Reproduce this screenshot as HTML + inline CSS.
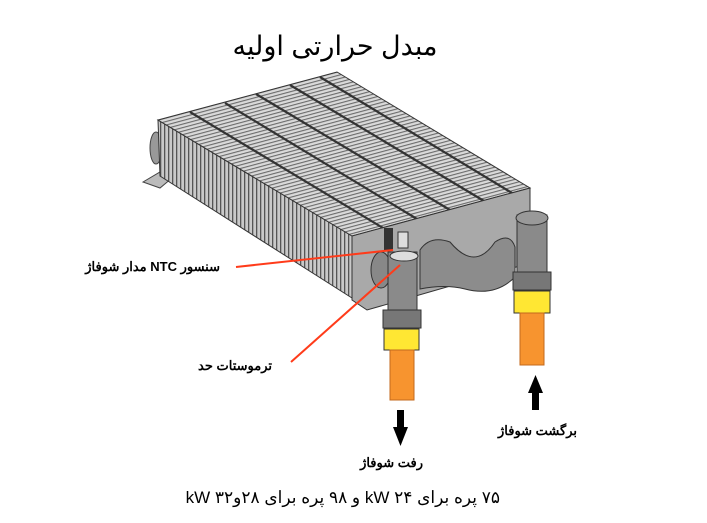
<!DOCTYPE html>
<html><head><meta charset="utf-8"><style>
body{margin:0;background:#fff;width:707px;height:523px;overflow:hidden}
svg{display:block}
</style></head><body>
<svg width="707" height="523" viewBox="0 0 707 523" xmlns="http://www.w3.org/2000/svg">
<defs>
<pattern id="fins" width="4" height="4" patternUnits="userSpaceOnUse">
<rect width="4" height="4" fill="#c9c9c9"/><rect width="1.3" height="4" fill="#555"/>
</pattern>
<pattern id="topfins" width="3.4" height="3.4" patternUnits="userSpaceOnUse" patternTransform="rotate(75)">
<rect width="3.4" height="3.4" fill="#dadada"/><rect width="1.1" height="3.4" fill="#6a6a6a"/>
</pattern>
</defs>
<text x="335" y="55" font-family="Liberation Sans, 'Noto Sans CJK SC', sans-serif" font-size="27" text-anchor="middle" direction="rtl">مبدل حرارتی اولیه</text>
<polygon points="143,182 160,172 172,178 160,188" fill="#bbb" stroke="#444"/>
<ellipse cx="156" cy="148" rx="6" ry="16" fill="#999" stroke="#444"/>
<polygon points="158,120 352,236 352,298 160,176" fill="url(#fins)" stroke="#333"/>
<polygon points="158,120 337,72 530,188 352,236" fill="url(#topfins)" stroke="#333"/>
<g stroke="#333" stroke-width="2.2">
<line x1="190" y1="112" x2="383" y2="228"/>
<line x1="225" y1="103" x2="417" y2="219"/>
<line x1="256" y1="94" x2="450" y2="210"/>
<line x1="290" y1="85" x2="484" y2="201"/>
<line x1="320" y1="77" x2="512" y2="193"/>
</g>
<polygon points="352,236 530,188 530,263 367,310 352,300" fill="#a9a9a9" stroke="#333"/>
<path d="M420,250 q10,-15 30,-8 q25,30 45,0 q15,-10 20,5 l0,30 q-20,20 -50,12 q-20,-5 -45,0z" fill="#8c8c8c" stroke="#333"/>
<ellipse cx="381" cy="270" rx="10" ry="18" fill="#888" stroke="#333"/>
<rect x="384" y="228" width="9" height="22" fill="#333"/>
<rect x="398" y="232" width="10" height="16" fill="#ddd" stroke="#333"/>
<rect x="388" y="252" width="29" height="60" fill="#8a8a8a" stroke="#333"/>
<ellipse cx="404" cy="256" rx="14" ry="5" fill="#ddd" stroke="#333"/>
<rect x="383" y="310" width="38" height="18" fill="#777" stroke="#333"/>
<rect x="384" y="329" width="35" height="21" fill="#ffe733" stroke="#333"/>
<rect x="390" y="350" width="24" height="50" fill="#f7942f" stroke="#c36a1d"/>
<rect x="517" y="215" width="30" height="60" fill="#8a8a8a" stroke="#333"/>
<ellipse cx="532" cy="218" rx="16" ry="7" fill="#999" stroke="#333"/>
<rect x="513" y="272" width="38" height="18" fill="#777" stroke="#333"/>
<rect x="514" y="291" width="36" height="22" fill="#ffe733" stroke="#333"/>
<rect x="520" y="313" width="24" height="52" fill="#f7942f" stroke="#c36a1d"/>
<line x1="236" y1="267" x2="393" y2="250" stroke="#ff3b1a" stroke-width="2"/>
<line x1="291" y1="362" x2="400" y2="265" stroke="#ff3b1a" stroke-width="2"/>
<rect x="397" y="410" width="7" height="18" fill="#000"/><polygon points="393,427 408,427 400.5,446" fill="#000"/>
<polygon points="528,393 543,393 535.5,375" fill="#000"/><rect x="532" y="392" width="7" height="18" fill="#000"/>
<g font-family="Liberation Sans, 'Noto Sans CJK SC', sans-serif" font-weight="bold" font-size="13" direction="rtl">
<text x="220" y="271" text-anchor="start">سنسور NTC مدار شوفاژ</text>
<text x="272" y="370" text-anchor="start">ترموستات حد</text>
<text x="577" y="435" text-anchor="start">برگشت شوفاژ</text>
<text x="423" y="467" text-anchor="start">رفت شوفاژ</text>
</g>
<text x="500" y="503" font-family="Liberation Sans, 'Noto Sans CJK SC', sans-serif" font-size="17" direction="rtl" text-anchor="start">۷۵ پره برای ۲۴ kW و ۹۸ پره برای ۲۸و۳۲ kW</text>
</svg>
</body></html>
